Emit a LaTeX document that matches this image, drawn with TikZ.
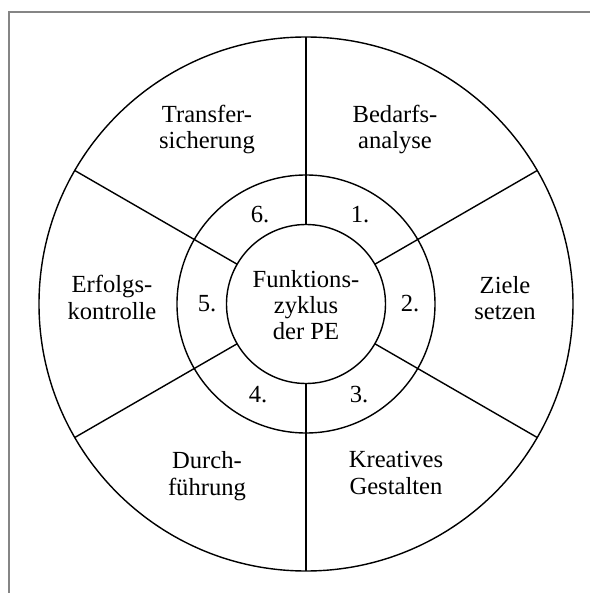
\documentclass[tikz,border=0pt]{standalone}
\usepackage{fontspec}
\setmainfont{Liberation Serif}
\begin{document}
\begin{tikzpicture}[line width=0.8pt, every node/.style={font=\fontsize{14}{15}\selectfont, align=center, inner sep=0pt}]
\useasboundingbox (-6.12,-5.78) rectangle (5.68,6.08);
\draw[black!48, line width=1.1pt] (-5.94,-5.78) -- (-5.94,5.84) -- (5.68,5.84);
\draw (0,0) circle (5.34cm);
\draw (0,0) circle (2.58cm);
\draw (0,0) circle (1.59cm);
\foreach \w in {30,90,...,330}
  \draw (\w:1.59cm) -- (\w:5.34cm);
\node (zyklus) at (0,-0.02) {Funktions-\\zyklus\\der PE};
\foreach \nr/\fx/\fy/\nx/\ny/\feld in {
  1/1.78/3.49/1.08/1.78/{Bedarfs-\\analyse},
  2/3.98/0.12/2.08/0.01/{Ziele\\setzen},
  3/1.80/-3.38/1.06/-1.82/{Kreatives\\Gestalten},
  4/-1.98/-3.44/-0.96/-1.82/{Durch-\\führung},
  5/-3.88/0.13/-1.98/0.01/{Erfolgs-\\kontrolle},
  6/-1.98/3.49/-0.92/1.78/{Transfer-\\sicherung}}
{
  \node (feld\nr) at (\fx,\fy) {\feld};
  \node (nr\nr) at (\nx,\ny) {\nr.};
}
\end{tikzpicture}
\end{document}
